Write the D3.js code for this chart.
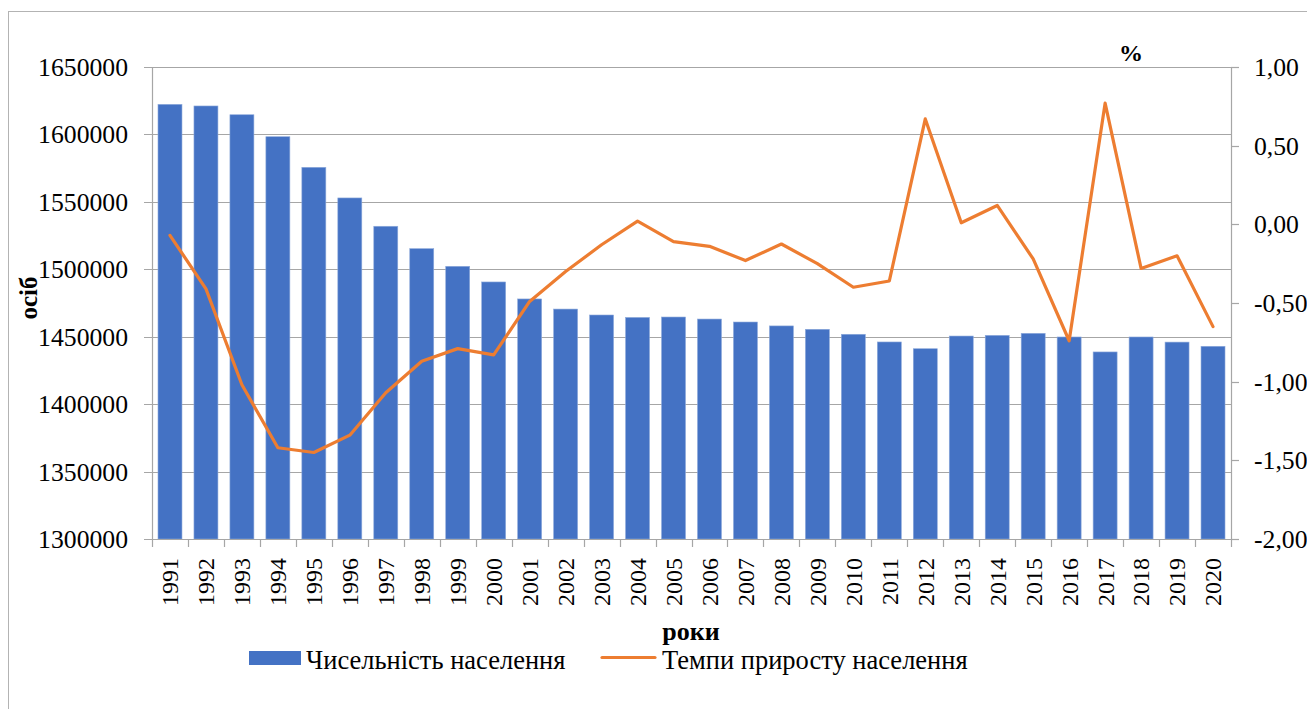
<!DOCTYPE html>
<html>
<head>
<meta charset="utf-8">
<script src="https://cdn.jsdelivr.net/npm/d3@7"></script>
<style>
  html, body { margin: 0; padding: 0; background: #fff; }
  svg { display: block; }
</style>
</head>
<body>
<svg id="chart" width="1307" height="709"></svg>
<script>
const years = ["1991","1992","1993","1994","1995","1996","1997","1998","1999","2000",
  "2001","2002","2003","2004","2005","2006","2007","2008","2009","2010",
  "2011","2012","2013","2014","2015","2016","2017","2018","2019","2020"];
const population = [1622300, 1621100, 1614600, 1598300, 1575600, 1552900, 1531900, 1515300, 1502200, 1490600,
  1478000, 1470500, 1466100, 1464300, 1464600, 1463100, 1460900, 1458000, 1455500, 1451800,
  1446100, 1441100, 1450500, 1451000, 1452500, 1449800, 1438700, 1449800, 1446000, 1442900];
const growth = [-0.07, -0.41, -1.02, -1.42, -1.45, -1.34, -1.07, -0.87, -0.79, -0.83,
  -0.49, -0.30, -0.13, 0.02, -0.11, -0.14, -0.23, -0.125, -0.25, -0.40,
  -0.36, 0.67, 0.01, 0.12, -0.22, -0.74, 0.77, -0.28, -0.20, -0.65];
const leftTicks = [1300000, 1350000, 1400000, 1450000, 1500000, 1550000, 1600000, 1650000];
const rightTicks = [-2, -1.5, -1, -0.5, 0, 0.5, 1];
const seriesNames = ["Чисельність населення", "Темпи приросту населення"];
const yLeftTitle = "осіб";
const yRightTitle = "%";
const xTitle = "роки";

const FONT = "'Liberation Serif', 'Times New Roman', serif";
const svg = d3.select("#chart");
const L = 152, R = 1231, T = 67, B = 539;
const gridColor = "#a6a6a6";
const barColor = "#4472C4";
const lineColor = "#ED7D31";

// outer border
svg.append("rect").attr("x", 8.5).attr("y", 11.5).attr("width", 1320).attr("height", 720)
  .attr("fill", "none").attr("stroke", "#b3b3b3").attr("stroke-width", 1);

const x = d3.scaleBand().domain(years).range([L, R]).paddingInner(1/3).paddingOuter(1/6);
const yL = d3.scaleLinear().domain([1300000, 1650000]).range([B, T]);
const yR = d3.scaleLinear().domain([-2, 1]).range([B, T]);

// gridlines
svg.append("g").selectAll("line").data(leftTicks).join("line")
  .attr("x1", L - 8).attr("x2", R)
  .attr("y1", d => Math.round(yL(d)) + 0.5).attr("y2", d => Math.round(yL(d)) + 0.5)
  .attr("stroke", gridColor).attr("stroke-width", 1.2);

// left axis labels
svg.append("g").selectAll("text").data(leftTicks).join("text")
  .attr("font-family", FONT)
  .attr("x", 128).attr("y", d => yL(d)).attr("dy", "0.35em")
  .attr("text-anchor", "end").attr("font-size", 25.7)
  .text(d => d);

// bars
svg.append("g").selectAll("rect").data(years).join("rect")
  .attr("x", d => x(d)).attr("width", x.bandwidth())
  .attr("y", (d, i) => yL(population[i]))
  .attr("height", (d, i) => B - yL(population[i]))
  .attr("fill", barColor)
  .attr("stroke", "#8eaadb").attr("stroke-width", 0.6);

// left axis line
svg.append("line").attr("x1", L + 0.5).attr("x2", L + 0.5).attr("y1", T).attr("y2", B)
  .attr("stroke", gridColor).attr("stroke-width", 1.2);
// right axis line + ticks
svg.append("line").attr("x1", R + 0.5).attr("x2", R + 0.5).attr("y1", T).attr("y2", B)
  .attr("stroke", gridColor).attr("stroke-width", 1.2);
svg.append("g").selectAll("line").data(rightTicks).join("line")
  .attr("x1", R).attr("x2", R + 8)
  .attr("y1", d => Math.round(yR(d)) + 0.5).attr("y2", d => Math.round(yR(d)) + 0.5)
  .attr("stroke", gridColor).attr("stroke-width", 1.2);
const fmt = v => (v < 0 ? "-" : "") + Math.abs(v).toFixed(2).replace(".", ",");
svg.append("g").selectAll("text").data(rightTicks).join("text")
  .attr("font-family", FONT)
  .attr("x", 1254).attr("y", d => yR(d)).attr("dy", "0.35em")
  .attr("text-anchor", "start").attr("font-size", 25.7)
  .text(fmt);

// bottom axis
svg.append("line").attr("x1", L).attr("x2", R + 8).attr("y1", B + 0.5).attr("y2", B + 0.5)
  .attr("stroke", gridColor).attr("stroke-width", 1.2);
const bounds = years.map(d => x(d) - x.step() * x.paddingInner() / 2).concat([R]);
svg.append("g").selectAll("line").data(bounds).join("line")
  .attr("x1", d => Math.round(d) + 0.5).attr("x2", d => Math.round(d) + 0.5)
  .attr("y1", B).attr("y2", B + 8)
  .attr("stroke", gridColor).attr("stroke-width", 1.2);
svg.append("g").selectAll("text").data(years).join("text")
  .attr("font-family", FONT)
  .attr("transform", d => `translate(${x(d) + x.bandwidth() / 2},558) rotate(-90)`)
  .attr("dy", "0.35em").attr("text-anchor", "end").attr("font-size", 24)
  .text(d => d);

// line series
const line = d3.line().x((d, i) => x(years[i]) + x.bandwidth() / 2).y(d => yR(d));
svg.append("path").datum(growth).attr("d", line)
  .attr("fill", "none").attr("stroke", lineColor).attr("stroke-width", 3.2)
  .attr("stroke-linejoin", "round").attr("stroke-linecap", "round");

// titles
svg.append("text").attr("font-family", FONT).attr("x", 691).attr("y", 640).attr("text-anchor", "middle")
  .attr("font-size", 26).attr("font-weight", "bold").text(xTitle);
svg.append("text").attr("font-family", FONT).attr("transform", "translate(37,298) rotate(-90)")
  .attr("text-anchor", "middle").attr("font-size", 25).attr("font-weight", "bold")
  .text(yLeftTitle);
svg.append("text").attr("font-family", FONT).attr("x", 1131).attr("y", 61).attr("text-anchor", "middle")
  .attr("font-size", 24).attr("font-weight", "bold").text(yRightTitle);

// legend
const lg = svg.append("g");
lg.append("rect").attr("x", 249).attr("y", 651).attr("width", 52).attr("height", 14).attr("fill", barColor);
lg.append("text").attr("font-family", FONT).attr("x", 306).attr("y", 669).attr("font-size", 26.5).text(seriesNames[0]);
lg.append("line").attr("x1", 602).attr("x2", 655).attr("y1", 657.5).attr("y2", 657.5)
  .attr("stroke", lineColor).attr("stroke-width", 3.2).attr("stroke-linecap", "round");
lg.append("text").attr("font-family", FONT).attr("x", 662).attr("y", 669).attr("font-size", 26.5).text(seriesNames[1]);
</script>
</body>
</html>
